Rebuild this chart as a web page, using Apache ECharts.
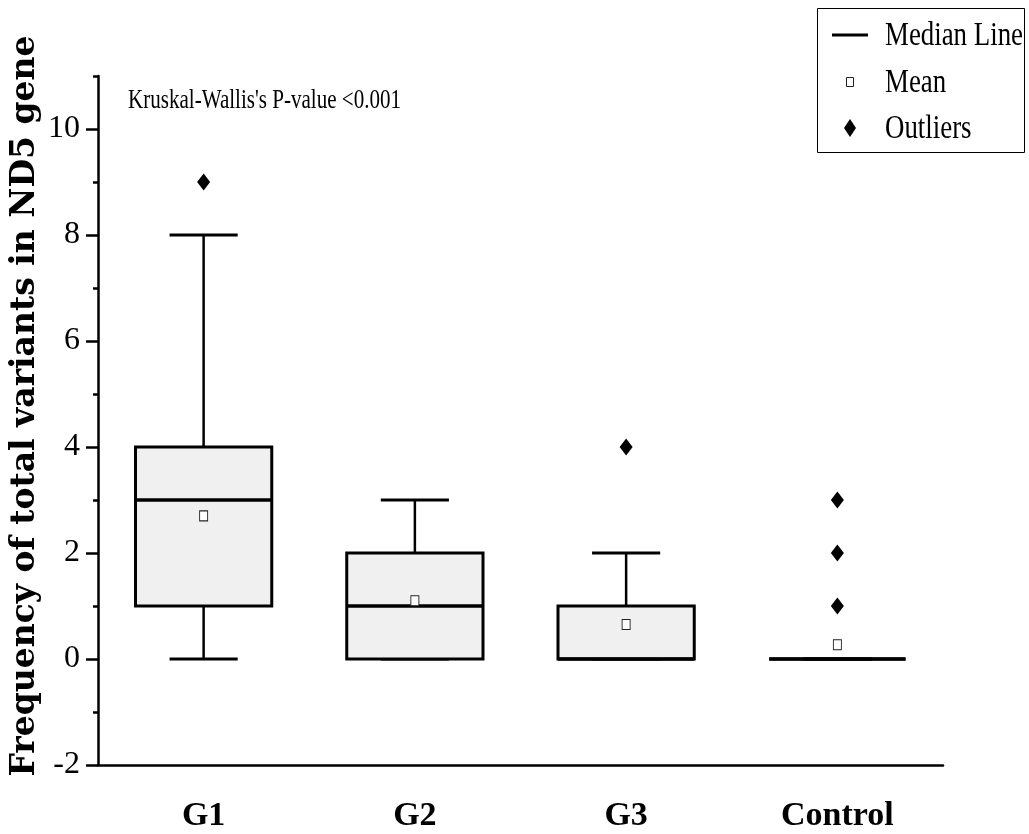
<!DOCTYPE html>
<html>
<head>
<meta charset="utf-8">
<title>ND5 variants boxplot</title>
<script src="https://cdn.jsdelivr.net/npm/echarts@6.0.0/dist/echarts.min.js"></script>
<style>
  html, body { margin: 0; padding: 0; background: #fff; }
  #main { width: 1029px; height: 834px; }
</style>
</head>
<body>
<div id="main"></div>
<script>
// data
var categories = ['G1', 'G2', 'G3', 'Control'];
// min, q1, median, q3, max
var boxStats = [
    [0, 1, 3, 4, 8],
    [0, 0, 1, 2, 3],
    [0, 0, 0, 1, 2],
    [0, 0, 0, 0, 0]
];
var means = [2.7, 1.1, 0.65, 0.27];
var outliers = [[0, 9], [2, 4], [3, 1], [3, 2], [3, 3]];
var yLabelTicks = [-2, 0, 2, 4, 6, 8, 10];
var yMinorTicks = [-1, 1, 3, 5, 7, 9, 11];

var serif = 'Liberation Serif, Times New Roman, serif';

var myChart = echarts.init(document.getElementById('main'));

function renderBox(params, api) {
    var x = api.value(0);
    var bw = api.size([1, 0])[0] * 0.645;
    var half = bw / 2, capHalf = bw / 4;
    var pMin = api.coord([x, api.value(1)]);
    var pQ1 = api.coord([x, api.value(2)]);
    var pMed = api.coord([x, api.value(3)]);
    var pQ3 = api.coord([x, api.value(4)]);
    var pMax = api.coord([x, api.value(5)]);
    var cx = pMin[0];
    var line = function (x1, y1, x2, y2, w) {
        return {
            type: 'line',
            shape: { x1: x1, y1: y1, x2: x2, y2: y2 },
            style: { stroke: '#000', lineWidth: w }
        };
    };
    return {
        type: 'group',
        children: [
            line(cx, pQ3[1], cx, pMax[1], 2.5),
            line(cx, pQ1[1], cx, pMin[1], 2.5),
            line(cx - capHalf, pMax[1], cx + capHalf, pMax[1], 3),
            line(cx - capHalf, pMin[1], cx + capHalf, pMin[1], 3),
            {
                type: 'rect',
                shape: { x: cx - half, y: pQ3[1], width: bw, height: pQ1[1] - pQ3[1] },
                style: { fill: '#f0f0f0', stroke: '#000', lineWidth: 3 }
            },
            line(cx - half, pMed[1], cx + half, pMed[1], 3.5)
        ]
    };
}

var option = {
    animation: false,
    grid: { left: 98, right: 86, top: 76, bottom: 69 },
    xAxis: {
        type: 'category',
        data: categories,
        boundaryGap: true,
        axisLine: { onZero: false, lineStyle: { color: '#000', width: 2.5 } },
        axisTick: { alignWithLabel: true, length: 17, lineStyle: { color: '#000', width: 2.5 } },
        axisLabel: { color: '#000', fontFamily: serif, fontWeight: 'bold', fontSize: 34, margin: 34 },
        splitLine: { show: false }
    },
    yAxis: [
        {
            type: 'value',
            min: -2,
            max: 11,
            interval: 2,
            position: 'left',
            axisLine: { show: true, lineStyle: { color: '#000', width: 2.5 } },
            axisTick: { show: true, customValues: yLabelTicks, length: 12, lineStyle: { color: '#000', width: 2.5 } },
            axisLabel: { customValues: yLabelTicks, color: '#000', fontFamily: serif, fontSize: 32, margin: 18 },
            splitLine: { show: false }
        },
        {
            type: 'value',
            min: -2,
            max: 11,
            position: 'left',
            offset: 0,
            axisLine: { show: false },
            axisTick: { show: true, customValues: yMinorTicks, length: 5, lineStyle: { color: '#000', width: 2.5 } },
            axisLabel: { show: false },
            splitLine: { show: false }
        }
    ],
    series: [
        {
            name: 'box',
            type: 'custom',
            renderItem: renderBox,
            encode: { x: 0, y: [1, 2, 3, 4, 5] },
            data: boxStats.map(function (s, i) { return [i].concat(s); }),
            z: 2
        },
        {
            name: 'Mean',
            type: 'scatter',
            symbol: 'rect',
            symbolSize: [8, 10],
            itemStyle: { color: '#fff', borderColor: '#222', borderWidth: 1, opacity: 1 },
            data: means.map(function (m, i) { return [i, m]; }),
            z: 4
        },
        {
            name: 'Outliers',
            type: 'scatter',
            symbol: 'diamond',
            symbolSize: [13, 17],
            itemStyle: { color: '#000', opacity: 1 },
            data: outliers,
            z: 4
        }
    ],
    graphic: [
        {
            type: 'text',
            x: 25, y: 406,
            rotation: Math.PI / 2,
            style: {
                text: 'Frequency of total variants in ND5 gene',
                font: 'bold 33px "DejaVu Serif", serif',
                fill: '#000', align: 'center', verticalAlign: 'middle'
            }
        },
        {
            type: 'text',
            x: 128, y: 101,
            scaleX: 0.78,
            style: {
                text: "Kruskal-Wallis's P-value <0.001",
                font: '27px ' + serif,
                fill: '#000', verticalAlign: 'middle'
            }
        },
        {
            type: 'rect',
            shape: { x: 817.5, y: 8.5, width: 207, height: 144 },
            style: { fill: '#fff', stroke: '#000', lineWidth: 1 }
        },
        {
            type: 'line',
            shape: { x1: 832, y1: 35, x2: 868, y2: 35 },
            style: { stroke: '#000', lineWidth: 3 }
        },
        {
            type: 'rect',
            shape: { x: 846.5, y: 77.5, width: 7, height: 9 },
            style: { fill: '#fff', stroke: '#222', lineWidth: 1 }
        },
        {
            type: 'polygon',
            shape: { points: [[850, 119], [856, 128], [850, 137], [844, 128]] },
            style: { fill: '#000' }
        },
        {
            type: 'text', x: 885, y: 36, scaleX: 0.79,
            style: { text: 'Median Line', font: '34px ' + serif, fill: '#000', verticalAlign: 'middle' }
        },
        {
            type: 'text', x: 885, y: 83, scaleX: 0.79,
            style: { text: 'Mean', font: '34px ' + serif, fill: '#000', verticalAlign: 'middle' }
        },
        {
            type: 'text', x: 885, y: 129, scaleX: 0.79,
            style: { text: 'Outliers', font: '34px ' + serif, fill: '#000', verticalAlign: 'middle' }
        }
    ]
};

myChart.setOption(option);
</script>
</body>
</html>
